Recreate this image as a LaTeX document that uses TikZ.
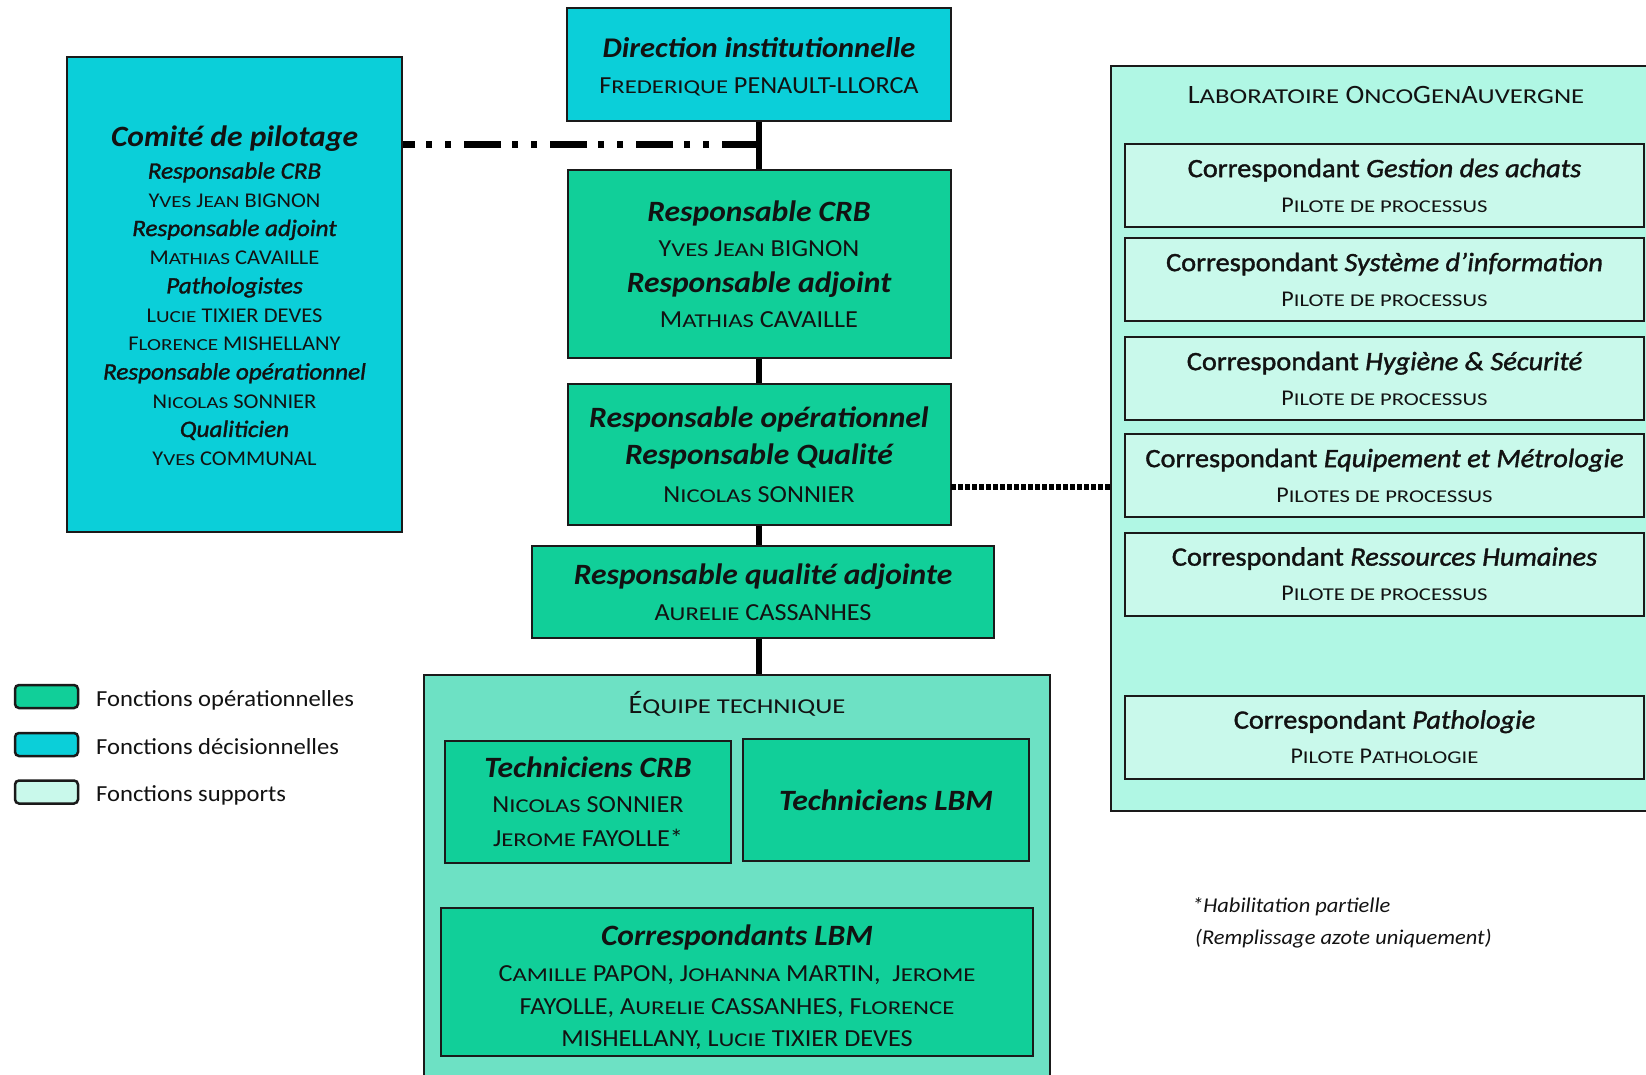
\documentclass[tikz,border=0pt]{standalone}
\usepackage{fontspec}
\setmainfont{Carlito}[FakeStretch=1.07]
% slightly heavier face for role lines
\newfontfamily\semifam{Carlito}[FakeStretch=1.07, FakeBold=1.4]
\usepackage{graphicx}
% small capitals built from scaled capitals
\newcommand\sca[1]{\scalebox{0.94}[0.8]{\MakeUppercase{#1}}}
% heading (bold italic) and role (italic) lines at a given size
\newcommand\ttl[2]{{\fontsize{#1pt}{#1pt}\selectfont\bfseries\itshape #2}}
\newcommand\rol[2]{{\fontsize{#1pt}{#1pt}\selectfont\semifam\itshape #2}}
\definecolor{deccyan}{HTML}{0BCFD9}
\definecolor{opgreen}{HTML}{11CF99}
\definecolor{teamgreen}{HTML}{6DE1C4}
\definecolor{labmint}{HTML}{B0F7E4}
\definecolor{supmint}{HTML}{C9F9EB}
\definecolor{edge}{HTML}{1A1A1A}
\definecolor{ink}{HTML}{121212}
\begin{document}
\begin{tikzpicture}[x=1pt,y=-1pt,
  box/.style={draw=edge, line width=2pt, rectangle, align=center, inner sep=0pt, text=ink},
  dec/.style={box, fill=deccyan},
  oper/.style={box, fill=opgreen},
  supp/.style={box, fill=supmint, minimum width=519pt, minimum height=83pt,
    font=\fontsize{22.5}{35}\selectfont},
  swatch/.style={draw=edge, line width=2.5pt, rounded corners=4pt, minimum width=63pt, minimum height=23pt, inner sep=0pt},
  legtext/.style={anchor=west, inner sep=0pt, text=ink, font=\fontsize{23}{23}\selectfont},
  spine/.style={line width=5.5pt, draw=black},
  steering/.style={line width=7pt, draw=black, dash pattern=on 37pt off 13pt on 6pt off 13pt on 6pt off 11pt},
  lablink/.style={line width=6pt, draw=black, dash pattern=on 5pt off 2pt},
  plain/.style={inner sep=0pt, text=ink, align=center}
]
\useasboundingbox (0,0) rectangle (1646,1075);

% ---------- containers ----------
\node[box, fill=labmint, minimum width=550pt, minimum height=745pt] (lab) at (1386,438.5) {};
\node[box, fill=teamgreen, minimum width=626pt, minimum height=420pt] (team) at (737,885) {};

% ---------- central chain ----------
\node[dec, minimum width=384pt, minimum height=113pt] (dir) at (759,64.5) {};
\node[plain, font=\fontsize{24.5}{36}\selectfont] (dirtext) at (759,67)
  {\ttl{28.5}{Direction institutionnelle}\\ F\sca{rederique} PENAULT-LLORCA};

\node[oper, minimum width=383pt, minimum height=188pt, font=\fontsize{24.5}{35.5}\selectfont] (crb) at (759,264)
  {\ttl{29.5}{Responsable CRB}\\ Y\sca{ves} J\sca{ean} BIGNON\\ \ttl{29.5}{Responsable adjoint}\\ M\sca{athias} CAVAILLE};

\node[oper, minimum width=383pt, minimum height=141pt, font=\fontsize{24.5}{37.5}\selectfont] (rop) at (759,454.5)
  {\ttl{29.5}{Responsable opérationnel}\\ \ttl{29.5}{Responsable Qualité}\\ N\sca{icolas} SONNIER};

\node[oper, minimum width=462pt, minimum height=92pt, font=\fontsize{24.5}{36}\selectfont] (rqa) at (763,592)
  {\ttl{29.5}{Responsable qualité adjointe}\\ A\sca{urelie} CASSANHES};

% ---------- steering committee ----------
\node[dec, minimum width=335pt, minimum height=475pt] (comite) at (234.5,294.5) {};
\node[plain, font=\fontsize{21}{28.7}\selectfont] (comitetext) at (234.5,296)
  {\ttl{29.5}{Comité de pilotage}\\[3pt]
   \rol{23.5}{Responsable CRB}\\ Y\sca{ves} J\sca{ean} BIGNON\\
   \rol{23.5}{Responsable adjoint}\\ M\sca{athias} CAVAILLE\\
   \rol{23.5}{Pathologistes}\\ L\sca{ucie} TIXIER DEVES\\ F\sca{lorence} MISHELLANY\\
   \rol{23.5}{Responsable opérationnel}\\ N\sca{icolas} SONNIER\\
   \rol{23.5}{Qualiticien}\\ Y\sca{ves} COMMUNAL};

% ---------- technical team ----------
\node[plain, font=\fontsize{26.5}{26.5}\selectfont] (teamtitle) at (737,704) {É\sca{quipe technique}};
\node[oper, minimum width=286pt, minimum height=122pt, font=\fontsize{24.5}{34.5}\selectfont] (tcrb) at (588,802)
  {\ttl{29.5}{Techniciens CRB}\\ N\sca{icolas} SONNIER\\ J\sca{erome} FAYOLLE*};
\node[oper, minimum width=286pt, minimum height=122pt] (tlbm) at (886,800)
  {\ttl{29.5}{Techniciens LBM}};
\node[oper, minimum width=592pt, minimum height=148pt] (clbm) at (737,982) {};
\node[plain, font=\fontsize{24.5}{32.5}\selectfont] (clbmtext) at (737,987)
  {\ttl{29.5}{Correspondants LBM}\\[4pt]
   C\sca{amille} PAPON, J\sca{ohanna} MARTIN,\ \ J\sca{erome}\\
   FAYOLLE, A\sca{urelie} CASSANHES, F\sca{lorence}\\
   MISHELLANY, L\sca{ucie} TIXIER DEVES};

% ---------- laboratory ----------
\node[plain, font=\fontsize{26.5}{26.5}\selectfont] (labtitle) at (1386,94.5)
  {L\sca{aboratoire} O\sca{nco}G\sca{en}A\sca{uvergne}};
\node[supp] (s1) at (1384.5,185.5) {{\fontsize{26.5}{26.5}\selectfont\semifam Correspondant \textit{Gestion des achats}}\\ P\sca{ilote de processus}};
\node[supp] (s2) at (1384.5,279.5) {{\fontsize{26.5}{26.5}\selectfont\semifam Correspondant \textit{Système d’information}}\\ P\sca{ilote de processus}};
\node[supp] (s3) at (1384.5,378.5) {{\fontsize{26.5}{26.5}\selectfont\semifam Correspondant \textit{Hygiène \& Sécurité}}\\ P\sca{ilote de processus}};
\node[supp] (s4) at (1384.5,475.5) {{\fontsize{26.5}{26.5}\selectfont\semifam Correspondant \textit{Equipement et Métrologie}}\\ P\sca{ilotes de processus}};
\node[supp] (s5) at (1384.5,574) {{\fontsize{26.5}{26.5}\selectfont\semifam Correspondant \textit{Ressources Humaines}}\\ P\sca{ilote de processus}};
\node[supp] (s6) at (1384.5,737) {{\fontsize{26.5}{26.5}\selectfont\semifam Correspondant \textit{Pathologie}}\\ P\sca{ilote} P\sca{athologie}};

% ---------- connectors ----------
\draw[spine] (dir.south) -- (crb.north);
\draw[spine] (crb.south) -- (rop.north);
\draw[spine] (rop.south) -- (rop.south |- rqa.north);
\draw[spine] (rop.south |- rqa.south) -- (rop.south |- team.north);
\coordinate (junction) at (759,145);
\draw[steering] (junction) -- (junction -| comite.east);
\coordinate (quality) at (951,487);
\draw[lablink] (quality) -- (quality -| lab.west);

% ---------- legend ----------
\node[swatch, fill=opgreen] (leg1) at (46.5,696.5) {};
\node[swatch, fill=deccyan] (leg2) at (46.5,744.5) {};
\node[swatch, fill=supmint] (leg3) at (46.5,792) {};
\node[legtext] (leg1t) at (96,700) {Fonctions opérationnelles};
\node[legtext] (leg2t) at (96,747) {Fonctions décisionnelles};
\node[legtext] (leg3t) at (96,795.5) {Fonctions supports};

% ---------- footnote ----------
\node[anchor=west, inner sep=0pt, text=ink, font=\fontsize{21}{21}\selectfont\itshape] (note1) at (1192,907) {*Habilitation partielle};
\node[anchor=west, inner sep=0pt, text=ink, font=\fontsize{21}{21}\selectfont\itshape] (note2) at (1195,939) {(Remplissage azote uniquement)};
\end{tikzpicture}
\end{document}
